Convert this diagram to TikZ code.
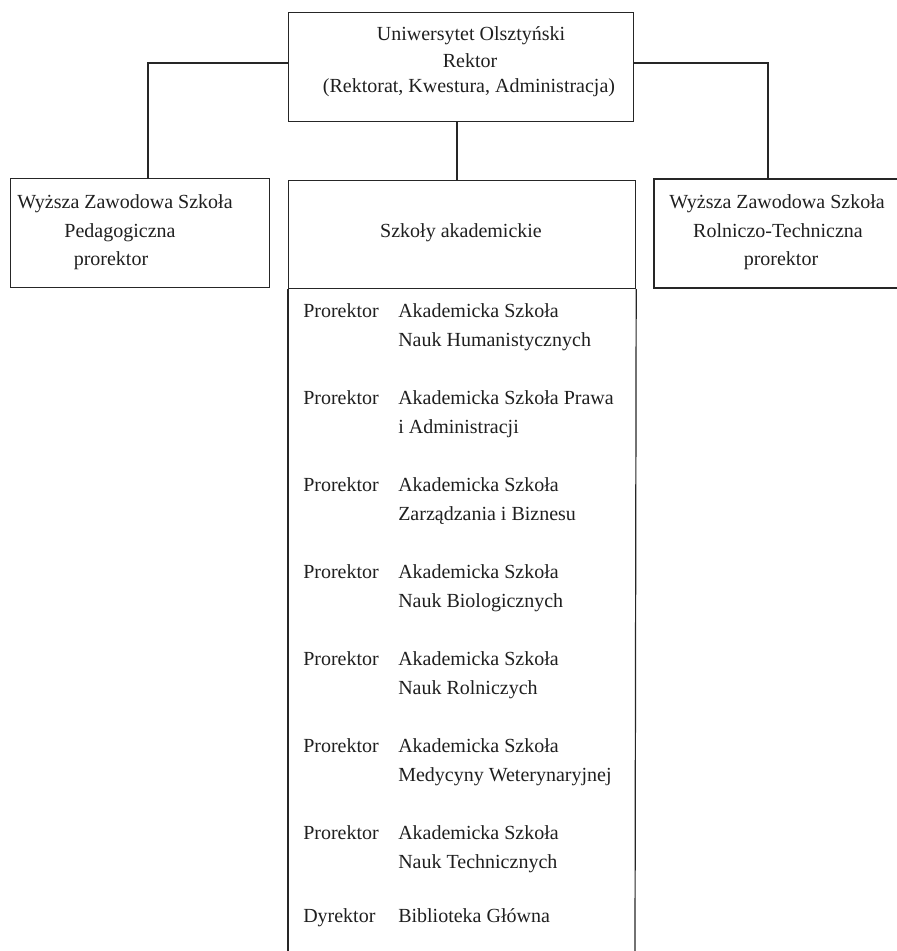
\documentclass[tikz,border=0pt]{standalone}
\usepackage{fontspec}
\setmainfont{Liberation Serif}
\begin{document}
\begin{tikzpicture}[x=0.75pt,y=-0.75pt,
  ln/.style={draw=black!85, line width=0.9pt},
  txt/.style={font=\fontsize{15}{18}\selectfont, text=black!88, inner sep=0pt},
  box/.style={ln, inner sep=0pt, anchor=north west}]
\useasboundingbox (0,0) rectangle (897,951);
% boxes
\node[box, minimum width=258.75pt, minimum height=81.75pt] (top) at (288,12) {};
\node[box, minimum width=194.25pt, minimum height=81.75pt] (left) at (10,178) {};
\node[box, minimum width=260.25pt, minimum height=81pt] (head) at (288,180) {};
% right box (cut at picture edge)
\coordinate (rt1) at (897,179);
\coordinate (rt2) at (654,179);
\coordinate (rt3) at (654,288);
\coordinate (rt4) at (897,288);
\draw[ln] (rt1) -- (rt2) -- (rt3) -- (rt4);
% lower part of central column
\coordinate (cl) at (288,951);
\coordinate (cr) at (635,951);
\draw[ln] (head.south west) -- (cl);
\draw[ln] (head.south east) -- (cr);
% connectors
\coordinate (kl) at (148,63);
\coordinate (kr) at (768,63);
\coordinate (kc) at (457,121);
\coordinate (kc2) at (457,180);
\draw[ln] (top.west |- kl) -- (kl) -- (kl |- left.north);
\draw[ln] (top.east |- kr) -- (kr) -- (kr |- rt2);
\draw[ln] (kc) -- (kc2);
% top texts
\node[txt, anchor=base] (t1) at (471,40) {Uniwersytet Olsztyński};
\node[txt, anchor=base] (t2) at (470,67) {Rektor};
\node[txt, anchor=base] (t3) at (469,92) {(Rektorat, Kwestura, Administracja)};
% left texts
\node[txt, anchor=base] (l1) at (125,208) {Wyższa Zawodowa Szkoła};
\node[txt, anchor=base] (l2) at (120,237) {Pedagogiczna};
\node[txt, anchor=base] (l3) at (111,265) {prorektor};
% right texts
\node[txt, anchor=base] (r1) at (777,208) {Wyższa Zawodowa Szkoła};
\node[txt, anchor=base] (r2) at (778,237) {Rolniczo-Techniczna};
\node[txt, anchor=base] (r3) at (781,265) {prorektor};
% header
\node[txt, anchor=base] (h) at (461,237) {Szkoły akademickie};
% list
\foreach \i/\y/\a/\b in {
  1/312/Akademicka Szkoła/Nauk Humanistycznych,
  2/399/Akademicka Szkoła Prawa/i Administracji,
  3/486/Akademicka Szkoła/Zarządzania i Biznesu,
  4/573/Akademicka Szkoła/Nauk Biologicznych,
  5/660/Akademicka Szkoła/Nauk Rolniczych,
  6/747/Akademicka Szkoła/Medycyny Weterynaryjnej,
  7/834/Akademicka Szkoła/Nauk Technicznych}{
  \node[txt, anchor=base west] (p\i) at (303,\y+5) {Prorektor};
  \node[txt, anchor=base west] (a\i) at (398,\y+5) {\a};
  \node[txt, anchor=base west] (b\i) at (398,\y+34) {\b};
}
\node[txt, anchor=base west] (d8) at (303,922) {Dyrektor};
\node[txt, anchor=base west] (a8) at (398,922) {Biblioteka Główna};
\end{tikzpicture}
\end{document}
